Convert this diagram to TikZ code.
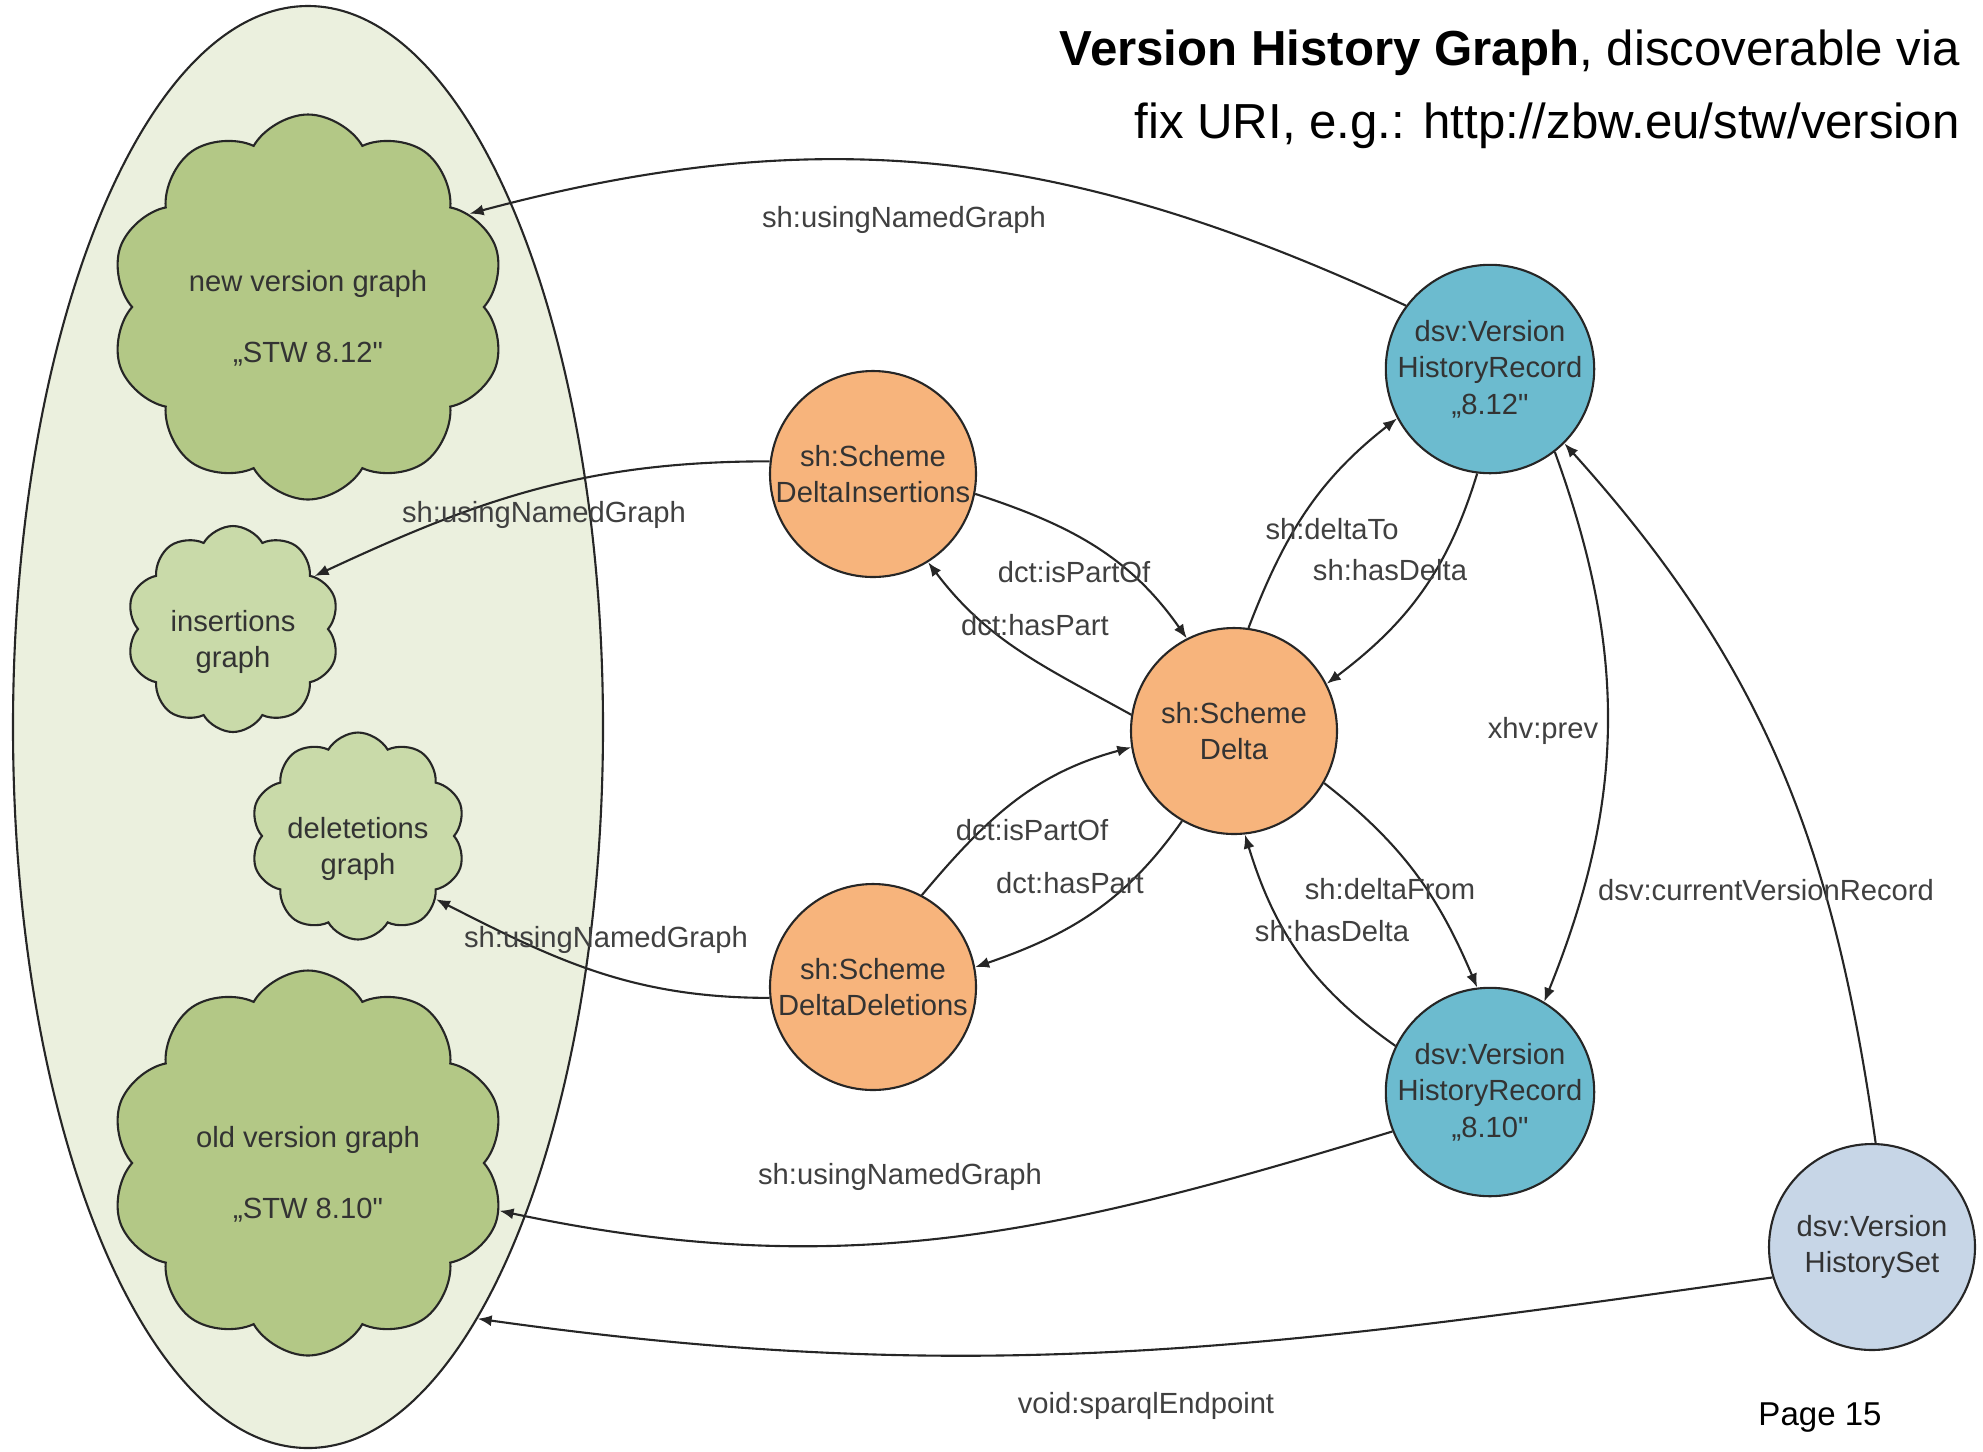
\documentclass[tikz,border=0pt]{standalone}
\usepackage{fontspec}
\setmainfont{Liberation Sans}
\usetikzlibrary{shapes.geometric,shapes.symbols,arrows.meta}

\definecolor{sfondo}{RGB}{235,240,222}
\definecolor{verdescuro}{RGB}{179,200,134}
\definecolor{verdechiaro}{RGB}{201,218,169}
\definecolor{arancio}{RGB}{247,180,124}
\definecolor{azzurro}{RGB}{108,187,207}
\definecolor{grigioblu}{RGB}{199,214,231}

\begin{document}
\begin{tikzpicture}[
    testo/.style={font=\fontsize{8.3}{10.4}\selectfont, text=black!80},
    nuvola/.style={cloud, cloud puffs=10, cloud puff arc=120, cloud ignores aspect, draw=black!85, line width=0.6pt, align=center, inner sep=0pt, testo},
    cerchio/.style={circle, draw=black!85, line width=0.6pt, minimum size=2.06cm, inner sep=0pt, align=center, testo},
    etichetta/.style={testo, text=black!75, inner sep=1pt},
    freccia/.style={draw=black!85, line width=0.6pt, -{Latex[length=1.4mm,width=1.1mm]}}
]
    \useasboundingbox (0,0) rectangle (19.83,-14.51);

    % Titolo in alto a destra
    \node[anchor=east, align=right, font=\fontsize{14}{20.7}\selectfont] (titolo) at (19.72,-0.89)
        {\textbf{Version History Graph}, discoverable via\\fix URI, e.g.: http://zbw.eu/stw/version};

    % Ellisse che contiene i grafi
    \node[ellipse, draw=black!85, line width=0.6pt, fill=sfondo, minimum width=5.9cm, minimum height=14.42cm] (storia) at (3.08,-7.27) {};

    % Le nuvole (named graphs), testo un po' piu' in basso
    \node[nuvola, fill=verdescuro, minimum width=3.95cm, minimum height=3.85cm] (nvg) at (3.08,-3.07) {{}\\[2pt]new version graph\\[10pt]„STW 8.12\textquotedbl};
    \node[nuvola, fill=verdechiaro, minimum width=2.13cm, minimum height=2.06cm] (insg) at (2.33,-6.29) {{}\\[3pt]insertions\\graph};
    \node[nuvola, fill=verdechiaro, minimum width=2.15cm, minimum height=2.07cm] (delg) at (3.58,-8.36) {{}\\[3pt]deletetions\\graph};
    \node[nuvola, fill=verdescuro, minimum width=3.95cm, minimum height=3.85cm] (ovg) at (3.08,-11.63) {{}\\[2pt]old version graph\\[10pt]„STW 8.10\textquotedbl};

    % I cerchi (risorse)
    \node[cerchio, fill=arancio] (ins) at (8.73,-4.74) {sh:Scheme\\DeltaInsertions};
    \node[cerchio, fill=arancio] (delta) at (12.34,-7.31) {sh:Scheme\\Delta};
    \node[cerchio, fill=arancio] (del) at (8.73,-9.87) {sh:Scheme\\DeltaDeletions};
    \node[cerchio, fill=azzurro] (rec812) at (14.90,-3.69) {dsv:Version\\HistoryRecord\\„8.12\textquotedbl};
    \node[cerchio, fill=azzurro] (rec810) at (14.90,-10.92) {dsv:Version\\HistoryRecord\\„8.10\textquotedbl};
    \node[cerchio, fill=grigioblu] (set) at (18.72,-12.47) {dsv:Version\\HistorySet};

    % Archi verso i grafi
    \draw[freccia] (rec812.143) to[out=155,in=15] (nvg.30);
    \draw[freccia] (ins.173) to[out=180,in=25] (insg.33);
    \draw[freccia] (del.186) to[out=180,in=-27] (delg.-39);
    \draw[freccia] (rec810.202) to[out=197,in=-12] (ovg.-14);
    \draw[freccia] (set.197) to[out=188,in=-8] (storia.-74);

    % Archi tra le risorse
    \draw[freccia] (ins.-11) to[out=-18,in=125] (delta.117);
    \draw[freccia] (delta.171) to[out=151,in=-53] (ins.-58);
    \draw[freccia] (del.62) to[out=50,in=195] (delta.189);
    \draw[freccia] (delta.240) to[out=235,in=19] (del.11);
    \draw[freccia] (delta.82) to[out=69,in=218] (rec812.208);
    \draw[freccia] (rec812.263) to[out=253,in=37] (delta.27);
    \draw[freccia] (delta.-30) to[out=-38,in=113] (rec810.97);
    \draw[freccia] (rec810.154) to[out=145,in=-73] (delta.-84);
    \draw[freccia] (rec812.-52) to[out=-70,in=68] (rec810.59);
    \draw[freccia] (set.88) to[out=98,in=-48] (rec812.-45);

    % Etichette degli archi
    \node[etichetta] (l1) at (9.04,-2.20) {sh:usingNamedGraph};
    \node[etichetta] (l2) at (5.44,-5.15) {sh:usingNamedGraph};
    \node[etichetta] (l3) at (6.06,-9.40) {sh:usingNamedGraph};
    \node[etichetta] (l4) at (9.00,-11.77) {sh:usingNamedGraph};
    \node[etichetta] (l5) at (11.46,-14.06) {void:sparqlEndpoint};
    \node[etichetta] (l6) at (10.74,-5.72) {dct:isPartOf};
    \node[etichetta] (l7) at (10.35,-6.25) {dct:hasPart};
    \node[etichetta] (l8) at (10.32,-8.30) {dct:isPartOf};
    \node[etichetta] (l9) at (10.70,-8.83) {dct:hasPart};
    \node[etichetta] (l10) at (13.32,-5.29) {sh:deltaTo};
    \node[etichetta] (l11) at (13.90,-5.70) {sh:hasDelta};
    \node[etichetta] (l12) at (15.43,-7.31) {xhv:prev};
    \node[etichetta] (l13) at (13.90,-8.89) {sh:deltaFrom};
    \node[etichetta] (l14) at (13.32,-9.31) {sh:hasDelta};
    \node[etichetta] (l15) at (17.66,-8.90) {dsv:currentVersionRecord};

    % Numero di pagina
    \node[font=\fontsize{9.4}{11}\selectfont] (pagina) at (18.20,-14.18) {Page 15};
\end{tikzpicture}
\end{document}
